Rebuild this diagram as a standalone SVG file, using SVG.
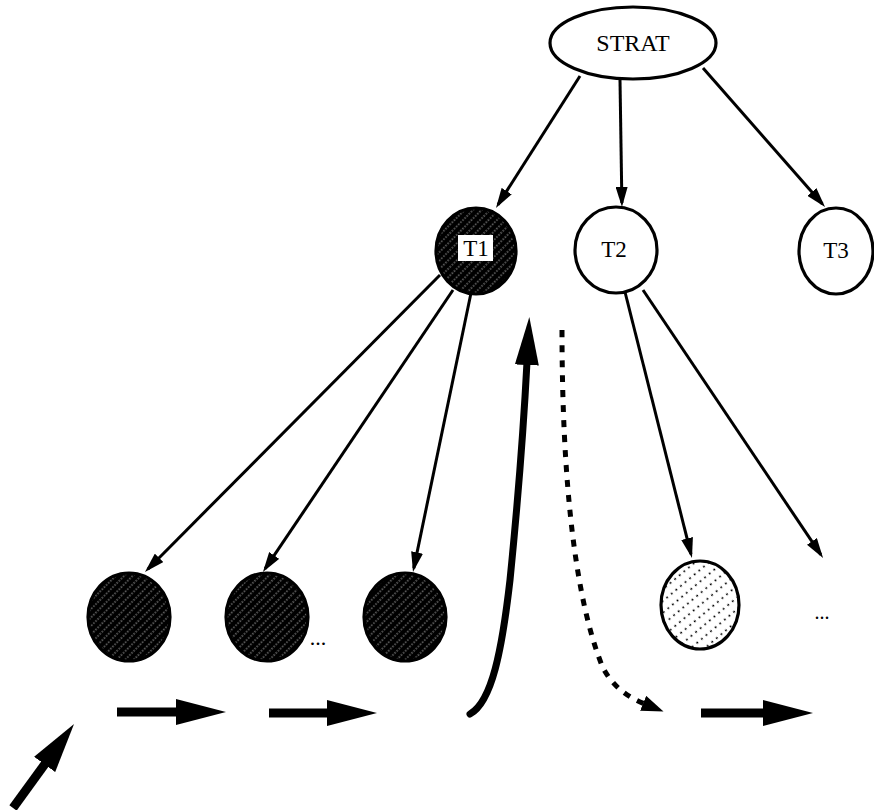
<svg xmlns="http://www.w3.org/2000/svg" width="874" height="810" viewBox="0 0 874 810">
<style>
text{font-family:"Liberation Serif","Times New Roman",serif;fill:#000;text-anchor:middle}
.node{stroke:#000;stroke-width:3.2}
.thin{stroke:#000;stroke-width:3;fill:none;marker-end:url(#headThin)}
.thick{stroke:#000;stroke-width:9;fill:none;marker-end:url(#headBig)}
</style>
<defs>
<pattern id="hatchDark" width="6" height="6" patternUnits="userSpaceOnUse" patternTransform="rotate(-45)">
<rect width="6" height="6" fill="#000"/>
<line x1="0" y1="3" x2="6" y2="3" stroke="#fff" stroke-width="0.7" stroke-dasharray="1.5 1.5"/>
</pattern>
<pattern id="hatchLight" width="12" height="9" patternUnits="userSpaceOnUse" patternTransform="rotate(-40)">
<rect width="12" height="9" fill="#fff"/>
<line x1="0" y1="4.5" x2="12" y2="4.5" stroke="#000" stroke-width="1.3" stroke-dasharray="2 4"/>
</pattern>
<marker id="headThin" viewBox="0 0 20 12" markerUnits="userSpaceOnUse" markerWidth="20" markerHeight="12" refX="16" refY="6" orient="auto">
<path d="M0,0 L20,6 L0,12 Z" fill="#000"/>
</marker>
<marker id="headBig" viewBox="0 0 50 26" markerUnits="userSpaceOnUse" markerWidth="50" markerHeight="26" refX="4" refY="13" orient="auto">
<path d="M0,0 L50,13 L0,26 Z" fill="#000"/>
</marker>
<marker id="headCurve" viewBox="0 0 48 24" markerUnits="userSpaceOnUse" markerWidth="48" markerHeight="24" refX="3" refY="12" orient="auto">
<path d="M0,0 L48,12 L0,24 Z" fill="#000"/>
</marker>
<marker id="headDash" viewBox="0 0 22 16" markerUnits="userSpaceOnUse" markerWidth="22" markerHeight="16" refX="2" refY="8" orient="auto">
<path d="M0,0 L22,8 L0,16 Z" fill="#000"/>
</marker>
</defs>

<g id="connectors">
<line class="thin" x1="580" y1="76" x2="498.1" y2="204.6"/>
<line class="thin" x1="620" y1="80" x2="621.9" y2="203"/>
<line class="thin" x1="703" y1="68" x2="822.4" y2="204"/>
<line class="thin" x1="440" y1="275" x2="147.8" y2="569.2"/>
<line class="thin" x1="453" y1="290" x2="265.2" y2="568.7"/>
<line class="thin" x1="471" y1="293" x2="413.8" y2="568.1"/>
<line class="thin" x1="625" y1="292" x2="691" y2="554.1"/>
<line class="thin" x1="643" y1="290" x2="820.8" y2="554.7"/>
<line class="thick" x1="117" y1="712" x2="180" y2="712"/>
<line class="thick" x1="269" y1="713" x2="331" y2="713"/>
<line class="thick" x1="701" y1="713" x2="767" y2="713"/>
<line class="thick" x1="13" y1="808" x2="47" y2="761.2"/>
<path d="M470,714 C492,702 502,650 510,580 C518,500 524,420 527,362" fill="none" stroke="#000" stroke-width="7" stroke-linecap="round" marker-end="url(#headCurve)"/>
<path d="M562,330 C562,480 575,600 603,668 C614,688 628,697 645,704" fill="none" stroke="#000" stroke-width="5" stroke-dasharray="7 8" marker-end="url(#headDash)"/>
</g>

<g id="strat">
<ellipse class="node" cx="633" cy="43" rx="83" ry="36" fill="#fff"/>
<text x="633" y="51" font-size="24">STRAT</text>
</g>
<g id="t1">
<ellipse class="node" cx="476" cy="251" rx="40" ry="43" fill="url(#hatchDark)"/>
<rect x="458" y="235" width="35" height="26" fill="#fff"/>
<text x="476" y="256" font-size="23">T1</text>
</g>
<g id="t2">
<ellipse class="node" cx="616" cy="250" rx="41" ry="43" fill="#fff"/>
<text x="614" y="257" font-size="23">T2</text>
</g>
<g id="t3">
<ellipse class="node" cx="836" cy="251" rx="37" ry="43" fill="#fff"/>
<text x="836" y="258" font-size="23">T3</text>
</g>
<g id="c1">
<ellipse class="node" cx="129" cy="617" rx="41" ry="44" fill="url(#hatchDark)"/>
</g>
<g id="c2">
<ellipse class="node" cx="267" cy="617" rx="41" ry="44" fill="url(#hatchDark)"/>
<text x="318" y="645" font-size="22">...</text>
</g>
<g id="c3">
<ellipse class="node" cx="405" cy="617" rx="41" ry="44" fill="url(#hatchDark)"/>
</g>
<g id="c4">
<ellipse class="node" cx="700" cy="605" rx="39" ry="44" fill="url(#hatchLight)"/>
</g>
<g id="more">
<text x="822" y="619" font-size="20">...</text>
</g>
</svg>
